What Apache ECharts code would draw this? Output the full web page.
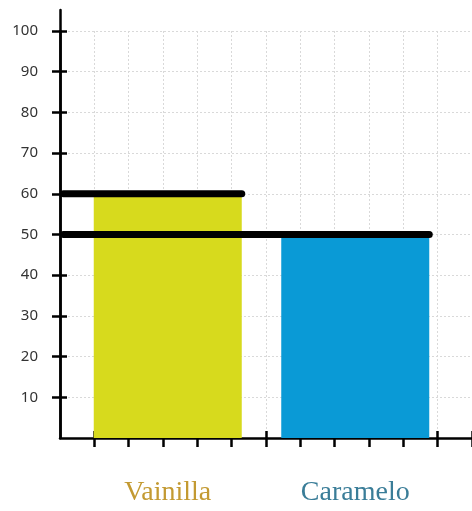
<!DOCTYPE html>
<html><head><meta charset="utf-8">
<script src="https://cdn.jsdelivr.net/npm/echarts@6/dist/echarts.min.js"></script>
<style>html,body{margin:0;padding:0;background:#fff}#c{width:472px;height:511px}</style>
</head><body><div id="c"></div>
<script>
// ---- data ----
const categories = ['Vainilla', 'Caramelo'];
const values = [60, 50];
const yTickLabels = [10, 20, 30, 40, 50, 60, 70, 80, 90, 100];
const xTickValues = [1, 2, 3, 4, 5, 6, 7, 8, 9, 10, 11, 12];

// ---- layout / style ----
const W = 472;
const axisLeft = 60, gridTop = 31, gridBottom = 73;
const xMax = 12;
const unit = (W - axisLeft) / xMax;
const barGridLeft = 74, barGridWidth = 375, barWidth = 148;
const barColors = ['#d7da1d', '#0a9ad6'];
const labelColors = ['#c39a32', '#3a7d98'];
const gridLineStyle = { color: '#d9d9d9', type: [2, 2], width: 1 };

const barRight = categories.map((c, i) =>
  barGridLeft + barGridWidth / categories.length * (i + 0.5) + barWidth / 2);
const lineSeries = values.map((v, i) => ({
  type: 'line', xAxisIndex: 1, yAxisIndex: 1, z: 5,
  data: [[0.1, v], [(barRight[i] - axisLeft) / unit, v]],
  showSymbol: false, symbol: 'none', silent: true,
  lineStyle: { color: '#000', width: 7, cap: 'round' }
}));

const rich = {};
labelColors.forEach((c, i) => {
  rich['c' + i] = { color: c, fontFamily: 'Liberation Serif', fontSize: 28 };
});

const chart = echarts.init(document.getElementById('c'), null, { renderer: 'canvas' });
chart.setOption({
  animation: false,
  backgroundColor: '#fff',
  grid: [
    { left: barGridLeft, width: barGridWidth, top: gridTop, bottom: gridBottom },
    { left: axisLeft, right: 0, top: gridTop, bottom: gridBottom },
    { left: axisLeft, right: 0, top: 10, bottom: gridBottom }
  ],
  xAxis: [
    { type: 'category', gridIndex: 0, data: categories,
      axisLine: { show: false }, axisTick: { show: false }, splitLine: { show: false },
      axisLabel: { margin: 41, formatter: (v, i) => `{c${i}|${v}}`, rich: rich } },
    { type: 'value', gridIndex: 1, min: 0, max: xMax, interval: 1, position: 'bottom',
      axisLine: { show: true, onZero: false, lineStyle: { color: '#000', width: 2.5 } },
      axisTick: { show: true, length: 9, customValues: xTickValues, lineStyle: { color: '#000', width: 2.5 } },
      axisLabel: { show: false },
      splitLine: { show: true, lineStyle: gridLineStyle } },
    { type: 'value', gridIndex: 1, min: 0, max: xMax, interval: 1, position: 'bottom',
      axisLine: { show: false, onZero: false },
      axisTick: { show: true, inside: true, length: 7, customValues: xTickValues, lineStyle: { color: '#000', width: 2.5 } },
      axisLabel: { show: false }, splitLine: { show: false } },
    { type: 'value', gridIndex: 2, min: 0, max: 1, show: false }
  ],
  yAxis: [
    { type: 'value', gridIndex: 0, min: 0, max: 100, show: false },
    { type: 'value', gridIndex: 1, min: 0, max: 100, interval: 10, position: 'left',
      axisLine: { show: true, onZero: false, lineStyle: { color: '#000', width: 2.5 } },
      axisTick: { show: true, length: 8, customValues: yTickLabels, lineStyle: { color: '#000', width: 2.5 } },
      axisLabel: { customValues: yTickLabels, margin: 22, color: '#333', fontSize: 15, fontFamily: 'Noto Sans' },
      splitLine: { show: true, lineStyle: gridLineStyle } },
    { type: 'value', gridIndex: 1, min: 0, max: 100, interval: 10, position: 'left',
      axisLine: { show: false, onZero: false },
      axisTick: { show: true, inside: true, length: 7, customValues: yTickLabels, lineStyle: { color: '#000', width: 2.5 } },
      axisLabel: { show: false }, splitLine: { show: false } },
    { type: 'value', gridIndex: 2, min: 0, max: 1, position: 'left',
      axisLine: { show: true, onZero: false, lineStyle: { color: '#000', width: 2.5 } },
      axisTick: { show: false }, axisLabel: { show: false }, splitLine: { show: false } }
  ],
  series: [
    { type: 'bar', xAxisIndex: 0, yAxisIndex: 0, barWidth: barWidth, z: 3,
      data: values.map((v, i) => ({ value: v, itemStyle: { color: barColors[i] } })) },
    ...lineSeries
  ]
});
</script>
</body></html>
